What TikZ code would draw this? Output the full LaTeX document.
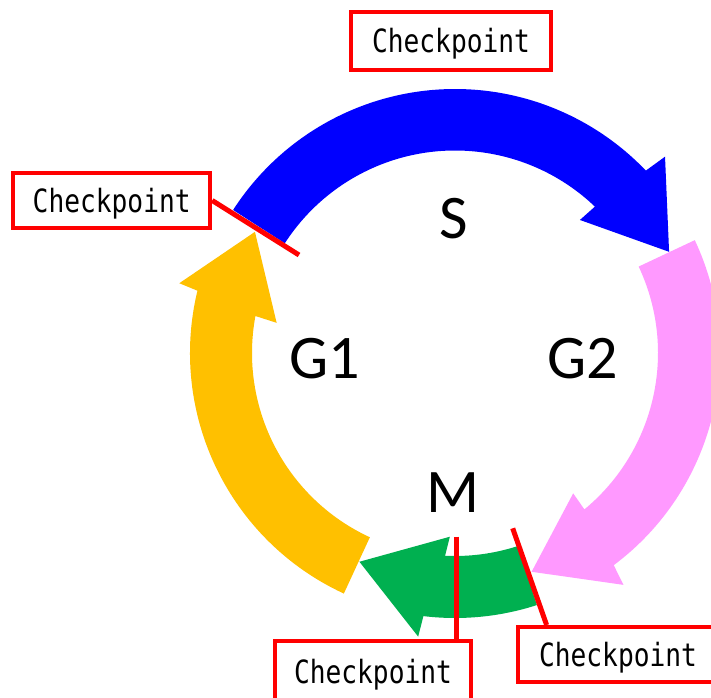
\documentclass[tikz,border=0pt]{standalone}
\usepackage{fontspec}
\newfontfamily\cpfont[FakeStretch=0.82]{DejaVu Sans Mono}
\newfontfamily\lblfont{Carlito}
\definecolor{Sblue}{HTML}{0000FF}
\definecolor{Gpink}{HTML}{FF99FF}
\definecolor{Gyel}{HTML}{FFC000}
\definecolor{Mgreen}{HTML}{00B050}
\definecolor{cpred}{HTML}{FF0000}
\tikzset{
  cpbox/.style={draw=cpred, line width=4pt, fill=white, inner sep=0pt,
    font=\cpfont\fontsize{32}{32}\selectfont, text height=23.5pt, text depth=0pt},
  cpline/.style={draw=cpred, line width=5pt},
  phase/.style={font=\lblfont\fontsize{62}{62}\selectfont, inner sep=0pt, text=black}
}
\begin{document}
\begin{tikzpicture}[x=1pt,y=1pt]
\useasboundingbox (0,0) rectangle (711,697);
\clip (0,0) rectangle (711,697);
\fill[white] (0,0) rectangle (711,697);
\begin{scope}[shift={(455,344)}]
  % M (green)
  \fill[Mgreen] (-72:265) arc[start angle=-72,end angle=-96.85,radius=265]
    -- (-97.4:286) -- (-114.6:229.6) -- (-91.6:183.8) -- (-92.8:203)
    arc[start angle=-92.8,end angle=-72,radius=203] -- cycle;
  % G1 (yellow)
  \fill[Gyel] (245.2:265) arc[start angle=245.2,end angle=166.4,radius=265]
    -- (165.8:284.4) -- (148.8:233.9) -- (170.4:180.9) -- (169.5:203)
    arc[start angle=169.5,end angle=245.2,radius=203] -- cycle;
  % G2 (pink)
  \fill[Gpink] (25.2:265) arc[start angle=25.2,end angle=-53.2,radius=265]
    -- (-54.0:286.6) -- (-70.7:231.8) -- (-49.9:183.5) -- (-50.4:203)
    arc[start angle=-50.4,end angle=25.2,radius=203] -- cycle;
  % S (blue)
  \fill[Sblue] (147.2:264) arc[start angle=147.2,end angle=43.7,radius=264]
    -- (43.07:287.5) -- (25.3:236.8) -- (46.8:182.5) -- (46.3:202.5)
    arc[start angle=46.3,end angle=147.2,radius=202.5] -- cycle;
\end{scope}

\node[phase] (S) at (454,478) {S};
\node[phase] (G1) at (325,338.7) {G1};
\node[phase] (G2) at (583,338.7) {G2};
\node[phase] (M) at (453,204) {M};

\node[cpbox, minimum width=200pt, minimum height=58pt] (cpTop) at (451,656) {Checkpoint};
\node[cpbox, minimum width=197pt, minimum height=55pt] (cpLeft) at (111.7,496.5) {Checkpoint};
\node[cpbox, minimum width=196.6pt, minimum height=60pt] (cpMid) at (373,25.7) {Checkpoint};
\node[cpbox, minimum width=200pt, minimum height=55pt] (cpRight) at (618,42.5) {Checkpoint};

\coordinate (endL) at (299,442);
\coordinate (endM) at (456,160.3);
\coordinate (endR) at (512.7,168.7);

\draw[cpline] (cpLeft.east) -- (endL);
\draw[cpline] (endM) -- (endM |- cpMid.north);
\draw[cpline] (endR) -- ([xshift=30.6pt]cpRight.north west);
\end{tikzpicture}
\end{document}
